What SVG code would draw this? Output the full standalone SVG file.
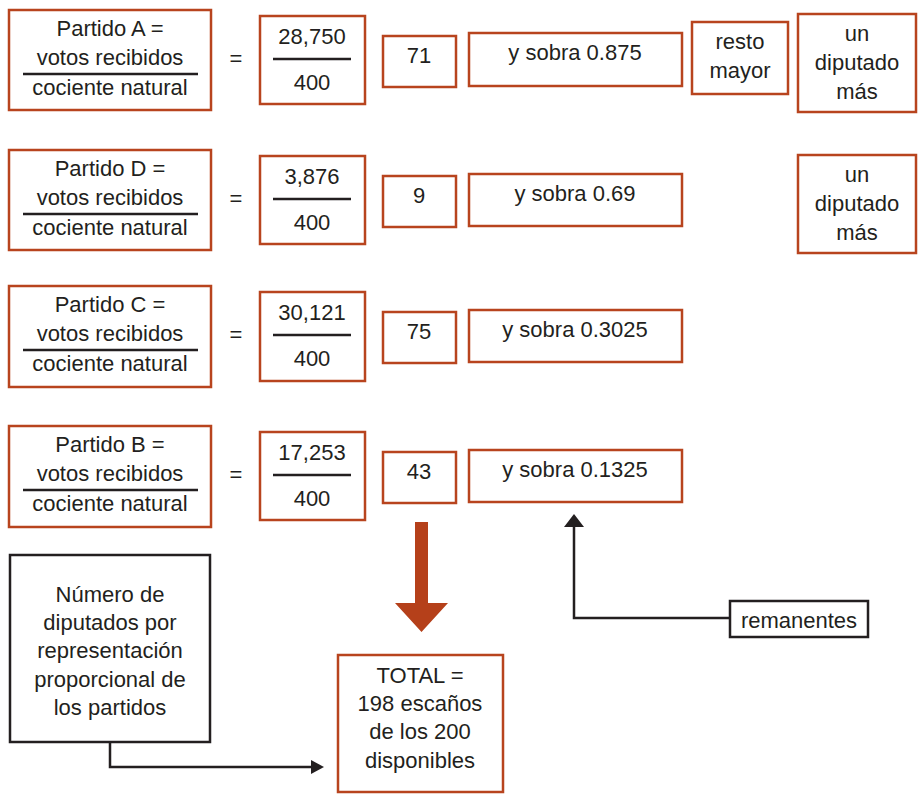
<svg xmlns="http://www.w3.org/2000/svg" width="918" height="800" viewBox="0 0 918 800">
<defs>
<style>
.b{fill:#fff;stroke:#b8441e;stroke-width:2.5}
.k{fill:#fff;stroke:#231f20;stroke-width:2.5}
.fl{stroke:#231f20;stroke-width:2.5}
text{font-family:"Liberation Sans",Arial,sans-serif;font-size:22px;fill:#231f20;text-anchor:middle}
.c{fill:none;stroke:#231f20;stroke-width:2.5}
</style>
</defs>

<g id="rowA">
<rect class="b" x="9" y="10" width="202" height="100"/>
<text x="110" y="36">Partido A =</text>
<text x="110" y="65">votos recibidos</text>
<line class="fl" x1="23" y1="74" x2="198" y2="74"/>
<text x="110" y="95">cociente natural</text>
<text x="236" y="66">=</text>
<rect class="b" x="260" y="16" width="105" height="88"/>
<text x="312" y="44">28,750</text>
<line class="fl" x1="273" y1="59" x2="351" y2="59"/>
<text x="312" y="90">400</text>
<rect class="b" x="383" y="36" width="73" height="51"/>
<text x="419" y="63">71</text>
<rect class="b" x="469" y="33" width="213" height="53"/>
<text x="575" y="60">y sobra 0.875</text>
<rect class="b" x="692" y="22" width="96" height="72"/>
<text x="740" y="49">resto</text>
<text x="740" y="78">mayor</text>
<rect class="b" x="798" y="14" width="118" height="98"/>
<text x="857" y="41">un</text>
<text x="857" y="70">diputado</text>
<text x="857" y="99">más</text>
</g>

<g id="rowD">
<rect class="b" x="9" y="150" width="202" height="100"/>
<text x="110" y="176">Partido D =</text>
<text x="110" y="205">votos recibidos</text>
<line class="fl" x1="23" y1="214" x2="198" y2="214"/>
<text x="110" y="235">cociente natural</text>
<text x="236" y="206">=</text>
<rect class="b" x="260" y="156" width="105" height="88"/>
<text x="312" y="184">3,876</text>
<line class="fl" x1="273" y1="199" x2="351" y2="199"/>
<text x="312" y="230">400</text>
<rect class="b" x="383" y="176" width="73" height="51"/>
<text x="419" y="203">9</text>
<rect class="b" x="469" y="174" width="213" height="52"/>
<text x="575" y="201">y sobra 0.69</text>
<rect class="b" x="798" y="155" width="118" height="98"/>
<text x="857" y="182">un</text>
<text x="857" y="211">diputado</text>
<text x="857" y="240">más</text>
</g>

<g id="rowC">
<rect class="b" x="9" y="286" width="202" height="101"/>
<text x="110" y="312">Partido C =</text>
<text x="110" y="341">votos recibidos</text>
<line class="fl" x1="23" y1="350" x2="198" y2="350"/>
<text x="110" y="371">cociente natural</text>
<text x="236" y="342">=</text>
<rect class="b" x="260" y="292" width="105" height="89"/>
<text x="312" y="320">30,121</text>
<line class="fl" x1="273" y1="335" x2="351" y2="335"/>
<text x="312" y="366">400</text>
<rect class="b" x="383" y="312" width="73" height="51"/>
<text x="419" y="339">75</text>
<rect class="b" x="469" y="310" width="213" height="52"/>
<text x="575" y="337">y sobra 0.3025</text>
</g>

<g id="rowB">
<rect class="b" x="9" y="426" width="202" height="101"/>
<text x="110" y="452">Partido B =</text>
<text x="110" y="481">votos recibidos</text>
<line class="fl" x1="23" y1="490" x2="198" y2="490"/>
<text x="110" y="511">cociente natural</text>
<text x="236" y="482">=</text>
<rect class="b" x="260" y="432" width="105" height="88"/>
<text x="312" y="460">17,253</text>
<line class="fl" x1="273" y1="475" x2="351" y2="475"/>
<text x="312" y="506">400</text>
<rect class="b" x="383" y="452" width="73" height="51"/>
<text x="419" y="479">43</text>
<rect class="b" x="469" y="450" width="213" height="52"/>
<text x="575" y="477">y sobra 0.1325</text>
</g>

<g id="numero">
<rect class="k" x="10" y="555" width="200" height="187"/>
<text x="110" y="602">Número de</text>
<text x="110" y="630">diputados por</text>
<text x="110" y="658">representación</text>
<text x="110" y="687">proporcional de</text>
<text x="110" y="715">los partidos</text>
</g>

<g id="total">
<rect class="b" x="338" y="655" width="165" height="137"/>
<text x="420" y="683">TOTAL =</text>
<text x="420" y="711">198 escaños</text>
<text x="420" y="739">de los 200</text>
<text x="420" y="768">disponibles</text>
</g>

<g id="remanentes">
<rect class="k" x="730" y="601" width="138" height="36"/>
<text x="799" y="628">remanentes</text>
</g>

<g id="connectors">
<path d="M415,522H428V603H448L421.5,632L395,603H415Z" fill="#b5401a"/>
<path class="c" d="M730,618H574V526"/>
<path d="M564,527L574,514L584,527Z" fill="#231f20"/>
<path class="c" d="M110,742V767H312"/>
<path d="M311,760L324,767L311,774Z" fill="#231f20"/>
</g>
</svg>
